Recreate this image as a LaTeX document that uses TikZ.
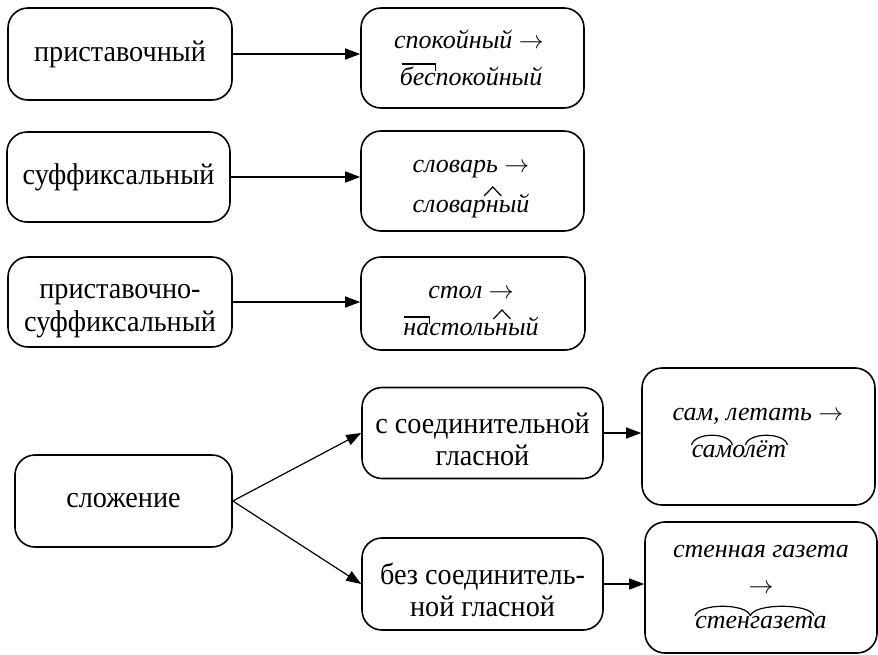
\documentclass[tikz,border=0pt]{standalone}
\usepackage{fontspec}
\setmainfont{Liberation Serif}
\newfontfamily\termfont{Liberation Serif}[FakeStretch=0.94]
\usetikzlibrary{arrows.meta,calc}

\tikzset{
  termbox/.style={draw, line width=1.6pt, rounded corners=20pt, align=center, inner sep=0pt,
    font=\fontsize{30}{33}\termfont},
  samplebox/.style={draw, line width=1.6pt, rounded corners=20pt, inner sep=0pt},
  sample/.style={inner sep=0pt, anchor=base, font=\fontsize{26}{30}\selectfont\itshape},
  ghost/.style={inner sep=0pt, anchor=base west, font=\fontsize{26}{30}\selectfont\itshape},
  link/.style={line width=1.2pt, -{Triangle[length=15pt,width=11pt]}},
  morph/.style={line width=1.2pt},
}

\begin{document}
\begin{tikzpicture}[x=1pt,y=1pt,yscale=-1]
\useasboundingbox (0,0) rectangle (878,654);

%Left column: ways of word formation
\node[termbox, minimum width=224pt, minimum height=92pt] (pref) at (120,54) {приставочный};
\node[termbox, minimum width=223pt, minimum height=90pt] (suf) at (118.5,177) {суффиксальный};
\node[termbox, minimum width=224pt, minimum height=90pt] (prefsuf) at (120,302) {\rule{0pt}{33pt}приставочно-\\суффиксальный};
\node[termbox, minimum width=217pt, minimum height=92pt] (comp) at (123.5,501) {сложение};

%Middle: kinds of compounding
\node[termbox, minimum width=241pt, minimum height=91pt, font=\fontsize{30}{32}\termfont] (withvow) at (482.5,433) {\rule{0pt}{33pt}с соединительной\\гласной};
\node[termbox, minimum width=241pt, minimum height=92pt, font=\fontsize{30}{32}\termfont] (novow) at (482.5,584) {\rule{0pt}{33pt}без соединитель-\\ной гласной};

%Example boxes
\node[samplebox, minimum width=223pt, minimum height=100pt] (prefex) at (472.5,58) {};
\node[samplebox, minimum width=223pt, minimum height=100pt] (sufex) at (472.5,181) {};
\node[samplebox, minimum width=224pt, minimum height=93pt] (prefsufex) at (473,303.5) {};
\node[samplebox, minimum width=233pt, minimum height=137pt] (withvowex) at (758.5,436.5) {};
\node[samplebox, minimum width=232pt, minimum height=131pt] (novowex) at (761,587.5) {};

% Example texts
\node[sample] (prefexA) at (469,48) {спокойный $\rightarrow$};
\node[sample] (prefexB) at (471,85) {беспокойный};
\node[sample] (sufexA) at (471,172) {словарь $\rightarrow$};
\node[sample] (sufexB) at (471,212) {словарный};
\node[sample] (prefsufexA) at (471,298) {стол $\rightarrow$};
\node[sample] (prefsufexB) at (471,335) {настольный};
\node[sample] (withvowexA) at (758,420) {сам, летать $\rightarrow$};
\node[sample] (withvowexB) at (739,457) {самолёт};
\node[sample] (novowexA) at (761,557) {стенная газета};
\node[sample] (novowexB) at (761,593) {$\rightarrow$};
\node[sample] (novowexC) at (761,628) {стенгазета};

% Morpheme parts (measured, not printed)
\node[ghost] (prefexP) at (prefexB.base west) {\phantom{бес}};
\node[ghost] (sufexS) at (sufexB.base west) {\phantom{словар}};
\node[ghost] (sufexN) at (sufexS.base east) {\phantom{н}};
\node[ghost] (prefsufexP) at (prefsufexB.base west) {\phantom{на}};
\node[ghost] (prefsufexS) at (prefsufexB.base west) {\phantom{настоль}};
\node[ghost] (prefsufexN) at (prefsufexS.base east) {\phantom{н}};
\node[ghost] (withvowexR) at (withvowexB.base west) {\phantom{сам}};
\node[ghost] (withvowexO) at (withvowexB.base west) {\phantom{само}};
\node[ghost] (withvowexT) at (withvowexO.base east) {\phantom{лёт}};
\node[ghost] (novowexR) at (novowexC.base west) {\phantom{стен}};
\node[ghost] (novowexT) at (novowexR.base east) {\phantom{газет}};

% Prefix marks
\draw[morph] ($(prefexP.base west)+(2,-21)$) -- ($(prefexP.base east)+(0,-21)$) -- ++(0,7);
\draw[morph] ($(prefsufexP.base west)+(1,-18)$) -- ($(prefsufexP.base east)+(0,-18)$) -- ++(0,7);
% Suffix marks
\draw[morph] ($(sufexN.base west)+(-2,-16)$) -- ($(sufexN.base)+(0,-25)$) -- ($(sufexN.base east)+(2,-16)$);
\draw[morph] ($(prefsufexN.base west)+(-2,-16)$) -- ($(prefsufexN.base)+(0,-25)$) -- ($(prefsufexN.base east)+(2,-16)$);
% Root marks
\draw[morph] ($(withvowexR.base west)+(0,-12)$) .. controls +(3,-13) and +(-3,-13) .. ($(withvowexR.base east)+(0,-12)$);
\draw[morph] ($(withvowexT.base west)+(0,-12)$) .. controls +(3,-13) and +(-3,-13) .. ($(withvowexT.base east)+(0,-12)$);
\draw[morph] ($(novowexR.base west)+(0,-12)$) .. controls +(3,-13) and +(-3,-13) .. ($(novowexR.base east)+(0,-12)$);
\draw[morph] ($(novowexT.base west)+(0,-12)$) .. controls +(3,-13) and +(-3,-13) .. ($(novowexT.base east)+(0,-12)$);

%Connectors
\draw[link] (pref.east) -- (pref.east -| prefex.west);
\draw[link] (suf.east) -- (suf.east -| sufex.west);
\draw[link] (prefsuf.east) -- (prefsuf.east -| prefsufex.west);
\draw[link] (comp.east) -- (withvow.west);
\draw[link] (comp.east) -- (novow.west);
\draw[link] (withvow.east) -- (withvow.east -| withvowex.west);
\draw[link] (novow.east) -- (novow.east -| novowex.west);

\end{tikzpicture}
\end{document}
